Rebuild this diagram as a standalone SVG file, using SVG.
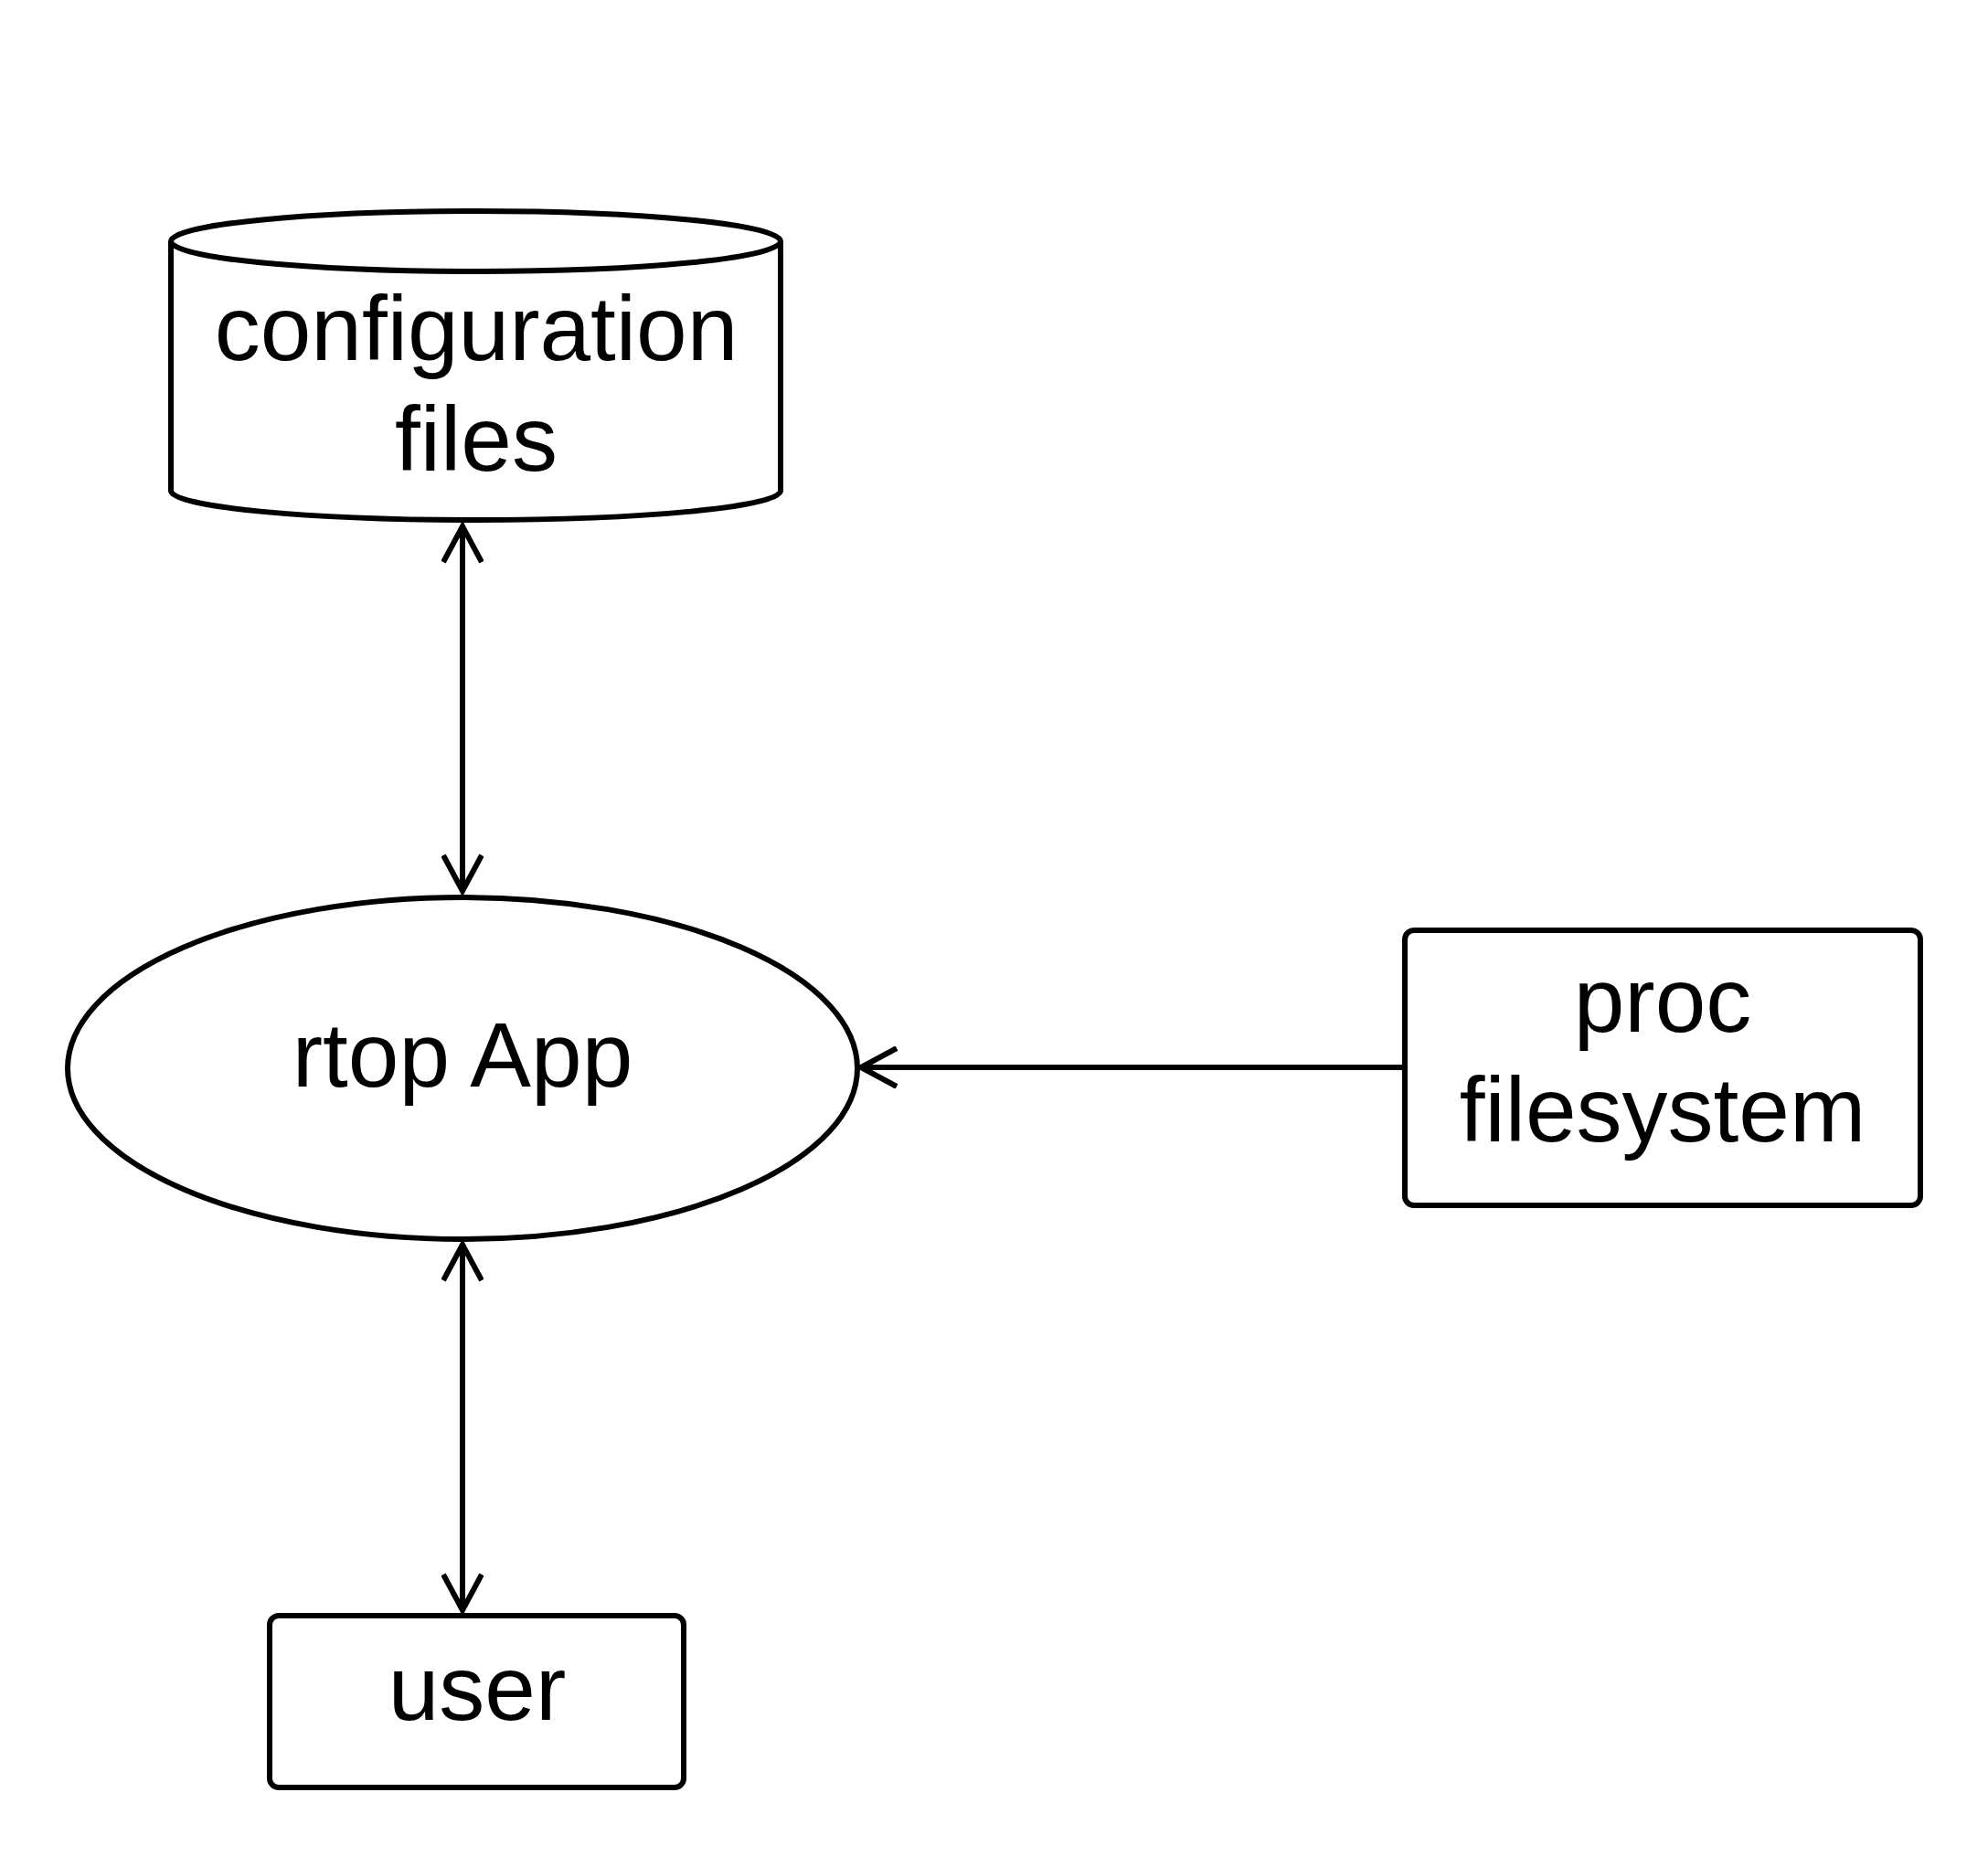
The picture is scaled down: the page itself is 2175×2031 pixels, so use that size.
<svg xmlns="http://www.w3.org/2000/svg" width="2175" height="2031" viewBox="0 0 2175 2031">
<style>
.shape{fill:#fff;stroke:#000;stroke-width:6}
.lbl{font-family:"Liberation Sans",Arial,sans-serif;font-size:100px;fill:#000;text-anchor:middle}
.edge{fill:none;stroke:#000;stroke-width:6}
</style>
<defs>
<marker id="arr" viewBox="0 0 46 46" refX="42" refY="23" markerWidth="46" markerHeight="46" markerUnits="userSpaceOnUse" orient="auto-start-reverse">
<path d="M3,2 L42,23 L3,44" fill="none" stroke="#000" stroke-width="6"/>
</marker>
</defs>
<rect width="2175" height="2031" fill="#fff"/>
<g id="config">
<path class="shape" d="M187,264 A333.5,33 0 0 1 854,264 L854,537 A333.5,32 0 0 1 187,537 Z"/>
<path class="shape" style="fill:none" d="M187,264 A333.5,33 0 0 0 854,264"/>
<text class="lbl" x="521" y="394">configuration</text>
<text class="lbl" x="521" y="515">files</text>
</g>
<g id="app">
<ellipse class="shape" cx="506" cy="1169" rx="432" ry="187"/>
<text class="lbl" x="506" y="1189">rtop App</text>
</g>
<g id="proc">
<rect class="shape" x="1537" y="1018" width="564" height="301" rx="10"/>
<text class="lbl" x="1819" y="1129">proc</text>
<text class="lbl" x="1819" y="1249">filesystem</text>
</g>
<g id="user">
<rect class="shape" x="295" y="1768" width="453" height="188" rx="10"/>
<text class="lbl" x="522" y="1882">user</text>
</g>
<g id="connectors">
<path class="edge" d="M506,576 L506,975" marker-start="url(#arr)" marker-end="url(#arr)"/>
<path class="edge" d="M506,1362 L506,1762" marker-start="url(#arr)" marker-end="url(#arr)"/>
<path class="edge" d="M1536,1168 L942,1168" marker-end="url(#arr)"/>
</g>
</svg>
